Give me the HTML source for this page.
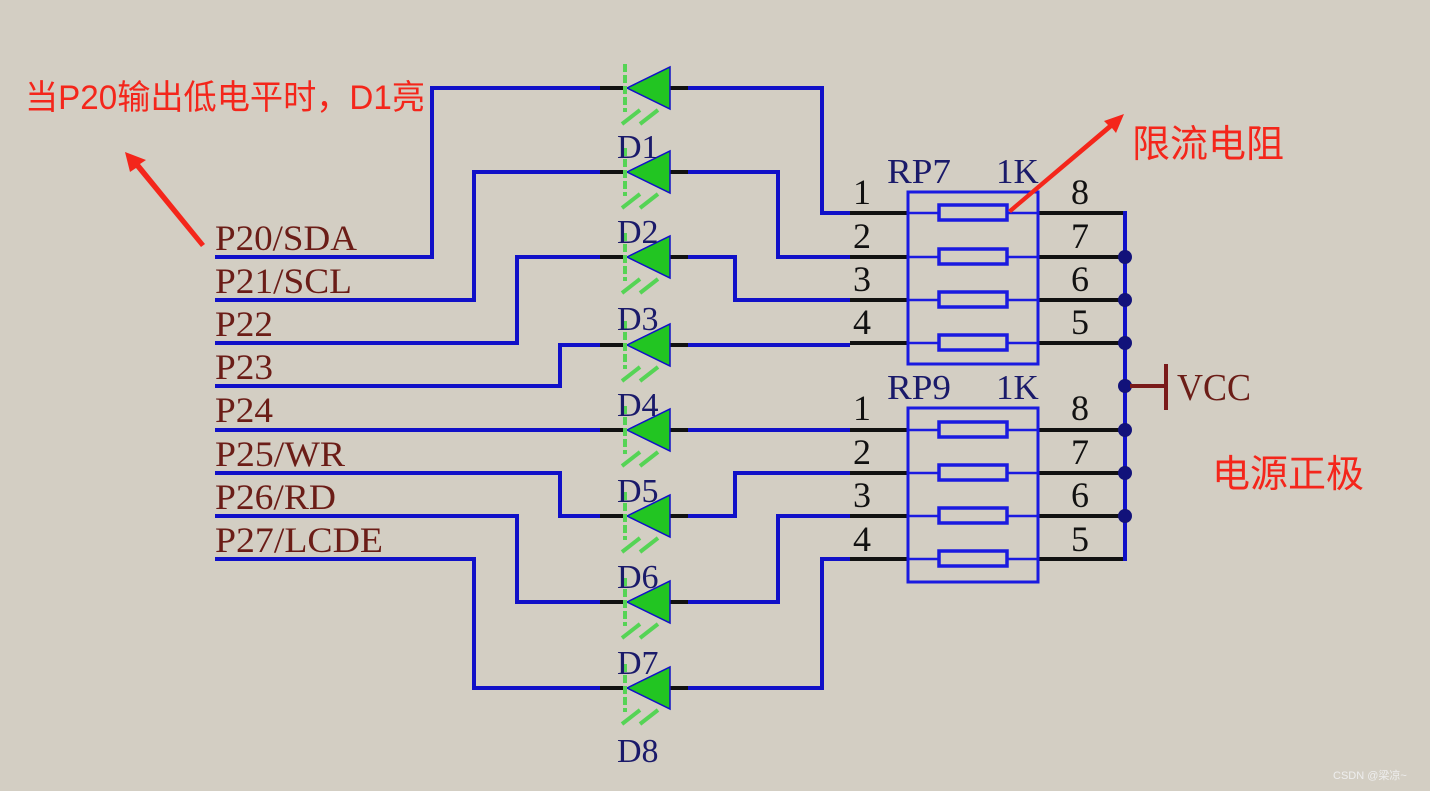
<!DOCTYPE html>
<html><head><meta charset="utf-8"><style>
html,body{margin:0;padding:0;background:#d3cec3;}
svg{display:block;}
.s{font-family:"Liberation Serif",serif;}
.r{font-family:"Liberation Sans","Noto Sans CJK SC",sans-serif;fill:#f4261b;}
</style></head><body>
<svg width="1430" height="791" viewBox="0 0 1430 791" xmlns="http://www.w3.org/2000/svg">
<rect width="1430" height="791" fill="#d3cec3"/>
<g class="s" font-size="36" fill="#6b1d17">
<text x="215" y="250" textLength="142" lengthAdjust="spacingAndGlyphs">P20/SDA</text>
<text x="215" y="293" textLength="137" lengthAdjust="spacingAndGlyphs">P21/SCL</text>
<text x="215" y="336" textLength="58" lengthAdjust="spacingAndGlyphs">P22</text>
<text x="215" y="379" textLength="58" lengthAdjust="spacingAndGlyphs">P23</text>
<text x="215" y="422" textLength="58" lengthAdjust="spacingAndGlyphs">P24</text>
<text x="215" y="466" textLength="130" lengthAdjust="spacingAndGlyphs">P25/WR</text>
<text x="215" y="509" textLength="121" lengthAdjust="spacingAndGlyphs">P26/RD</text>
<text x="215" y="552" textLength="168" lengthAdjust="spacingAndGlyphs">P27/LCDE</text>
</g>
<g fill="none" stroke="#1010c8" stroke-width="4">
<polyline points="215,257 432,257 432,88 600,88"/>
<polyline points="215,300 474,300 474,172 600,172"/>
<polyline points="215,343 517,343 517,257 600,257"/>
<polyline points="215,386 560,386 560,345 600,345"/>
<polyline points="215,430 600,430"/>
<polyline points="215,473 560,473 560,516 600,516"/>
<polyline points="215,516 517,516 517,602 600,602"/>
<polyline points="215,559 474,559 474,688 600,688"/>
<polyline points="688,88 822,88 822,213 850,213"/>
<polyline points="688,172 778,172 778,257 850,257"/>
<polyline points="688,257 735,257 735,300 850,300"/>
<polyline points="688,345 850,345"/>
<polyline points="688,430 850,430"/>
<polyline points="688,516 735,516 735,473 850,473"/>
<polyline points="688,602 778,602 778,516 850,516"/>
<polyline points="688,688 822,688 822,559 850,559"/>
</g>
<g stroke="#111" stroke-width="4">
<line x1="850" y1="213" x2="908" y2="213"/><line x1="850" y1="257" x2="908" y2="257"/>
<line x1="850" y1="300" x2="908" y2="300"/><line x1="850" y1="343" x2="908" y2="343"/>
<line x1="850" y1="430" x2="908" y2="430"/><line x1="850" y1="473" x2="908" y2="473"/>
<line x1="850" y1="516" x2="908" y2="516"/><line x1="850" y1="559" x2="908" y2="559"/>
<line x1="1038" y1="213" x2="1125" y2="213"/><line x1="1038" y1="257" x2="1125" y2="257"/>
<line x1="1038" y1="300" x2="1125" y2="300"/><line x1="1038" y1="343" x2="1125" y2="343"/>
<line x1="1038" y1="430" x2="1125" y2="430"/><line x1="1038" y1="473" x2="1125" y2="473"/>
<line x1="1038" y1="516" x2="1125" y2="516"/><line x1="1038" y1="559" x2="1125" y2="559"/>
</g>
<g id="dd">
<g transform="translate(0,88)">
<line x1="600" y1="0" x2="627" y2="0" stroke="#111" stroke-width="4"/>
<line x1="670" y1="0" x2="688" y2="0" stroke="#111" stroke-width="4"/>
<polygon points="627,0 670,-21 670,21" fill="#22c522" stroke="#1010c8" stroke-width="1.5"/>
<line x1="625" y1="-24" x2="625" y2="24" stroke="#55d455" stroke-width="4" stroke-dasharray="8,3"/>
<line x1="622" y1="36" x2="640" y2="22" stroke="#55d455" stroke-width="4"/>
<line x1="640" y1="36" x2="658" y2="22" stroke="#55d455" stroke-width="4"/>
</g>
</g>
<use href="#dd" transform="translate(0,84)"/>
<use href="#dd" transform="translate(0,169)"/>
<use href="#dd" transform="translate(0,257)"/>
<use href="#dd" transform="translate(0,342)"/>
<use href="#dd" transform="translate(0,428)"/>
<use href="#dd" transform="translate(0,514)"/>
<use href="#dd" transform="translate(0,600)"/>
<g class="s" font-size="34" fill="#1a1a6a">
<text x="617" y="158">D1</text><text x="617" y="243">D2</text><text x="617" y="330">D3</text>
<text x="617" y="416">D4</text><text x="617" y="502">D5</text><text x="617" y="588">D6</text>
<text x="617" y="674">D7</text><text x="617" y="762">D8</text>
</g>
<g fill="none" stroke="#1a1ae0" stroke-width="3">
<rect x="908" y="192" width="130" height="172"/>
<rect x="908" y="408" width="130" height="174"/>
</g>
<g stroke="#1a1ae0" stroke-width="2.5">
<line x1="908" y1="213" x2="1038" y2="213"/><line x1="908" y1="257" x2="1038" y2="257"/>
<line x1="908" y1="300" x2="1038" y2="300"/><line x1="908" y1="343" x2="1038" y2="343"/>
<line x1="908" y1="430" x2="1038" y2="430"/><line x1="908" y1="473" x2="1038" y2="473"/>
<line x1="908" y1="516" x2="1038" y2="516"/><line x1="908" y1="559" x2="1038" y2="559"/>
</g>
<g fill="#d3cec3" stroke="#1a1ae0" stroke-width="3.5">
<rect x="939" y="205" width="68" height="15"/><rect x="939" y="249" width="68" height="15"/>
<rect x="939" y="292" width="68" height="15"/><rect x="939" y="335" width="68" height="15"/>
<rect x="939" y="422" width="68" height="15"/><rect x="939" y="465" width="68" height="15"/>
<rect x="939" y="508" width="68" height="15"/><rect x="939" y="551" width="68" height="15"/>
</g>
<g class="s" font-size="36" fill="#111">
<text x="853" y="204">1</text><text x="853" y="248">2</text><text x="853" y="291">3</text><text x="853" y="334">4</text>
<text x="853" y="420">1</text><text x="853" y="464">2</text><text x="853" y="507">3</text><text x="853" y="551">4</text>
<text x="1071" y="204">8</text><text x="1071" y="248">7</text><text x="1071" y="291">6</text><text x="1071" y="334">5</text>
<text x="1071" y="420">8</text><text x="1071" y="464">7</text><text x="1071" y="507">6</text><text x="1071" y="551">5</text>
</g>
<g class="s" font-size="35" fill="#1a1a6a">
<text x="887" y="183" textLength="64" lengthAdjust="spacingAndGlyphs">RP7</text><text x="996" y="183">1K</text>
<text x="887" y="399" textLength="64" lengthAdjust="spacingAndGlyphs">RP9</text><text x="996" y="399">1K</text>
</g>
<line x1="1125" y1="211" x2="1125" y2="561" stroke="#1010c8" stroke-width="4"/>
<g fill="#12127a">
<circle cx="1125" cy="257" r="7"/><circle cx="1125" cy="300" r="7"/><circle cx="1125" cy="343" r="7"/>
<circle cx="1125" cy="386" r="7"/><circle cx="1125" cy="430" r="7"/><circle cx="1125" cy="473" r="7"/>
<circle cx="1125" cy="516" r="7"/>
</g>
<line x1="1130" y1="386" x2="1166" y2="386" stroke="#7a1a1a" stroke-width="4"/>
<line x1="1166" y1="364" x2="1166" y2="410" stroke="#7a1a1a" stroke-width="4"/>
<text class="s" x="1177" y="400" font-size="38" fill="#6b1d17" textLength="74" lengthAdjust="spacingAndGlyphs">VCC</text>
<text class="r" x="25" y="109" font-size="34" textLength="400" lengthAdjust="spacingAndGlyphs">当P20输出低电平时，D1亮</text>
<polygon points="201,247 205,244 140,164 146,160 125,152 130,172 136,168" fill="#f4261b"/>
<polygon points="1008,210 1011,213 1112,128 1116,133 1124,114 1104,121 1108,125" fill="#f4261b"/>
<text class="r" x="1132" y="157" font-size="38" textLength="152" lengthAdjust="spacingAndGlyphs">限流电阻</text>
<text class="r" x="1212" y="487" font-size="38" textLength="152" lengthAdjust="spacingAndGlyphs">电源正极</text>
<text x="1333" y="779" font-size="11" fill="#eee" font-family="Liberation Sans,Noto Sans CJK SC,sans-serif">CSDN @梁凉~</text>
</svg>
</body></html>
